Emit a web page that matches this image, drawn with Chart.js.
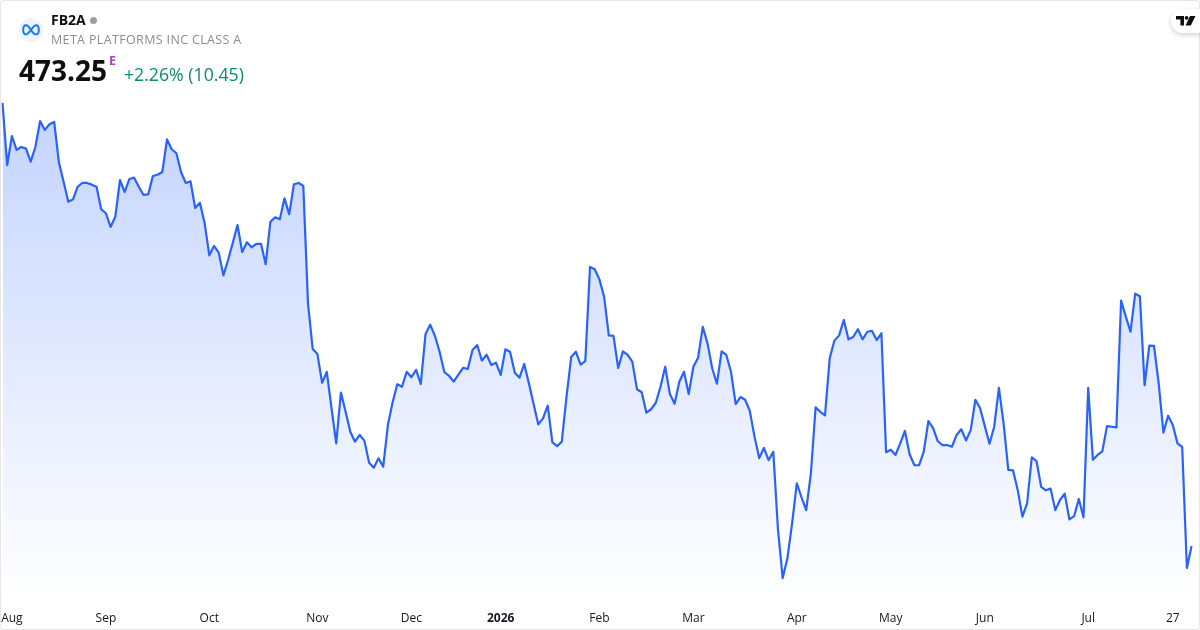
<!DOCTYPE html>
<html lang="en">
<head>
    <meta charset="UTF-8">
    <title>FB2A - Meta Platforms Inc Class A</title>
    <script src="https://cdn.jsdelivr.net/npm/chart.js"></script>
    <style>
        html, body { margin: 0; padding: 0; background: #fff; }
        #frame { position: relative; width: 1200px; height: 630px; overflow: hidden; background: #fff; font-family: "Open Sans", sans-serif; color: #0f0f0f; }
        #border { position: absolute; left: 0; top: 0; width: 1198px; height: 628px; border: 1px solid #e6e6e6; border-radius: 3px; pointer-events: none; }
        #chartBox { position: absolute; left: 0; top: 0; width: 1200px; height: 630px; }
        .label { position: absolute; white-space: nowrap; line-height: 1; }
        #symbol { left: 51px; top: 13px; font-size: 14px; font-weight: 700; }
        #name { left: 51px; top: 34px; font-size: 12.5px; color: #8c8c8c; letter-spacing: 0.35px; }
        #price { left: 19px; top: 56px; font-size: 28px; font-weight: 700; }
        #flag { left: 109px; top: 55px; font-size: 12.5px; font-weight: 700; color: #ab47bc; }
        #change { left: 124px; top: 66px; font-size: 17.7px; color: #0b8a70; }
        #dot { position: absolute; left: 90px; top: 17px; width: 7px; height: 7px; border-radius: 50%; background: #9e9e9e; }
        #logo { position: absolute; left: 19px; top: 18px; width: 24px; height: 24px; border-radius: 50%; background: #f0f3fa; }
        #badge { position: absolute; left: 1171px; top: 9px; width: 40px; height: 24px; border-radius: 12px; background: #fff; box-shadow: 0 2px 5px rgba(0,0,0,0.18); }
    </style>
</head>
<body>
    <div id="frame">
        <div id="chartBox"><canvas id="priceChart"></canvas></div>
        <div id="border"></div>
        <div id="logo">
            <svg width="24" height="24" viewBox="0 0 24 24"><path d="M12 12 C10 8.6 8.6 7.2 6.9 7.2 C5 7.2 4.2 9.6 4.2 12 C4.2 14.6 5.2 16.4 6.9 16.4 C8.8 16.4 10 14.4 12 12 C14 9 15.2 7.2 17.1 7.2 C18.8 7.2 19.8 9.6 19.8 12 C19.8 14.6 18.8 16.4 17.1 16.4 C15.2 16.4 13.6 14.6 12 12 Z" fill="none" stroke="#0a7cff" stroke-width="2"/></svg>
        </div>
        <div id="symbol" class="label">FB2A</div>
        <div id="dot"></div>
        <div id="name" class="label">META PLATFORMS INC CLASS A</div>
        <div id="price" class="label">473.25</div>
        <div id="flag" class="label">E</div>
        <div id="change" class="label">+2.26% (10.45)</div>
        <div id="badge">
            <svg width="20" height="12" viewBox="0 0 20 12" style="position:absolute;left:5px;top:6px"><path d="M0 1 H8 V10.5 H4.4 V4.6 H0 Z" fill="#0f0f0f"/><circle cx="10.6" cy="2.8" r="1.9" fill="#0f0f0f"/><path d="M14 1 H19.5 L14.8 10.5 H9.6 Z" fill="#0f0f0f"/></svg>
        </div>
    </div>

    <script>
        // closing prices, one per trading day
        const prices = [
            683.7, 654.2, 668.0, 661.4, 662.8, 662.0, 655.8, 662.9, 675.1, 670.9, 673.6, 674.7, 655.5, 646.3, 636.8, 637.9,
            643.9, 645.8, 645.7, 644.9, 643.9, 633.2, 631.3, 624.8, 629.7, 647.1, 641.4, 647.6, 648.2, 643.9, 640.0, 640.3,
            649.0, 649.6, 650.9, 666.4, 661.7, 659.8, 650.8, 645.7, 646.5, 633.8, 636.3, 626.7, 611.3, 615.8, 612.6, 601.8,
            609.1, 617.3, 625.7, 612.9, 617.5, 615.1, 616.8, 616.8, 607.1, 627.3, 629.4, 628.4, 638.4, 630.8, 645.1, 645.7,
            644.3, 588.5, 566.8, 564.4, 550.8, 555.9, 538.8, 522.0, 546.1, 537.0, 527.5, 522.8, 526.0, 523.3, 512.8, 510.4,
            514.9, 510.9, 530.7, 541.5, 550.1, 548.9, 556.0, 553.4, 556.9, 550.2, 573.8, 578.4, 573.1, 565.5, 555.9, 554.1,
            551.3, 554.6, 557.9, 557.3, 566.4, 568.7, 561.3, 564.1, 559.2, 560.3, 554.5, 566.7, 565.4, 555.6, 553.2, 559.7,
            550.5, 540.7, 531.0, 533.9, 539.9, 522.5, 520.7, 522.8, 544.2, 563.0, 565.5, 559.4, 561.1, 605.8, 604.7, 599.9,
            591.7, 573.3, 573.1, 557.8, 565.7, 564.0, 560.8, 547.7, 546.3, 536.6, 538.2, 541.3, 548.9, 558.4, 545.4, 540.8,
            551.3, 556.0, 545.4, 558.4, 562.7, 577.4, 569.5, 557.7, 550.3, 565.7, 564.0, 556.0, 540.6, 544.0, 542.7, 537.4,
            525.2, 515.0, 519.8, 514.0, 518.0, 480.9, 458.0, 467.4, 484.0, 503.0, 496.4, 490.3, 507.8, 539.1, 537.0, 535.3,
            562.4, 570.8, 573.3, 580.6, 571.4, 572.5, 576.2, 571.4, 575.0, 575.4, 571.1, 574.3, 517.8, 519.0, 516.5, 522.0,
            527.9, 516.8, 511.7, 511.6, 518.0, 532.6, 529.2, 523.0, 521.2, 521.2, 520.4, 526.0, 528.7, 523.4, 528.3, 542.7,
            538.7, 530.2, 521.8, 529.9, 548.4, 531.5, 509.4, 509.2, 499.9, 487.2, 493.5, 515.4, 513.6, 501.3, 499.7, 500.5,
            490.3, 495.1, 498.1, 485.9, 487.4, 495.6, 486.9, 548.4, 514.2, 516.5, 518.2, 530.2, 529.9, 529.6, 589.8, 582.2,
            575.0, 593.1, 591.9, 549.6, 568.4, 568.3, 550.5, 527.1, 535.1, 530.7, 522.0, 520.3, 462.8, 473.25
        ];

        // which trading day each axis label sits on
        const tickLabels = ['Aug', 'Sep', 'Oct', 'Nov', 'Dec', '2026', 'Feb', 'Mar', 'Apr', 'May', 'Jun', 'Jul', '27'];
        const tickDays = [2, 22, 44, 67, 87, 106, 127, 147, 169, 189, 209, 231, 249];

        const labels = prices.map((p, i) => {
            const at = tickDays.indexOf(i);
            return at >= 0 ? tickLabels[at] : '';
        });

        new Chart(document.getElementById('priceChart'), {
            type: 'line',
            data: {
                labels: labels,
                datasets: [{
                    data: prices,
                    borderColor: '#2962ff',
                    borderWidth: 2.2,
                    borderJoinStyle: 'round',
                    pointRadius: 0,
                    tension: 0,
                    fill: 'start',
                    backgroundColor: (context) => {
                        const area = context.chart.chartArea;
                        if (!area) return 'rgba(41,98,255,0.28)';
                        const gradient = context.chart.ctx.createLinearGradient(0, area.top, 0, area.bottom);
                        gradient.addColorStop(0, 'rgba(41,98,255,0.28)');
                        gradient.addColorStop(1, 'rgba(41,98,255,0)');
                        return gradient;
                    }
                }]
            },
            options: {
                responsive: true,
                maintainAspectRatio: false,
                animation: false,
                layout: { padding: { left: 2.5, right: 8.4, top: 100, bottom: 0 } },
                plugins: { legend: { display: false }, tooltip: { enabled: false } },
                scales: {
                    x: {
                        grid: { display: false },
                        border: { display: false },
                        afterFit: (scale) => {
                            // keep the plot edge to edge, labels don't need extra room
                            scale.height = 30;
                            scale.paddingLeft = 0;
                            scale.paddingRight = 0;
                        },
                        ticks: {
                            autoSkip: false,
                            maxRotation: 0,
                            padding: 3,
                            color: '#131722',
                            font: (context) => ({
                                family: '"Open Sans", sans-serif',
                                size: 12,
                                weight: context.tick && context.tick.label === '2026' ? 'bold' : 'normal'
                            })
                        }
                    },
                    y: { display: false, min: 447.6, max: 685.1 }
                }
            }
        });
    </script>
</body>
</html>
